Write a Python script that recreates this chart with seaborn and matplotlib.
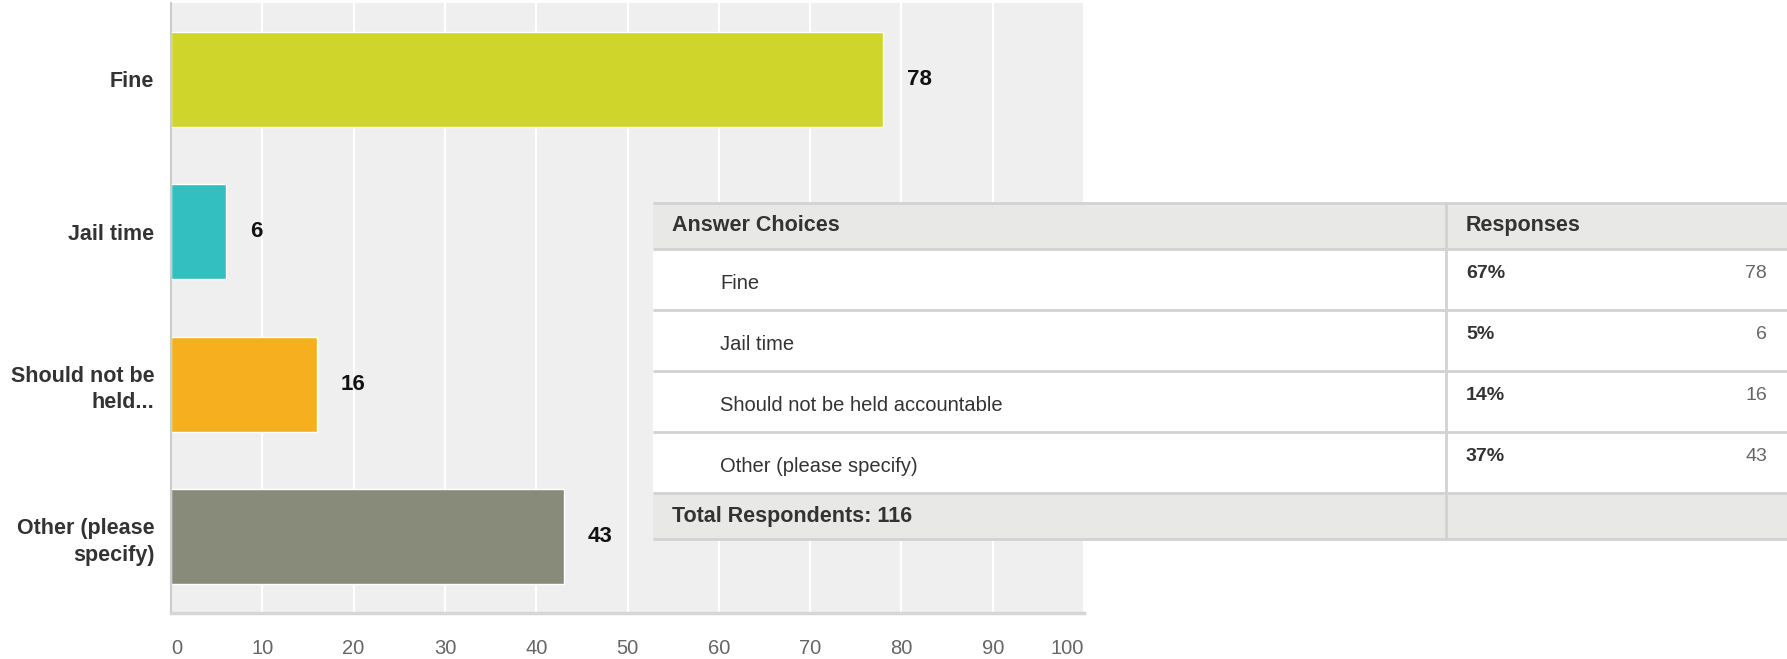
import matplotlib
matplotlib.use("Agg")
import matplotlib.pyplot as plt
import seaborn as sns
import pandas as pd
from matplotlib.patches import Rectangle

answers = ["Fine", "Jail time", "Should not be held accountable", "Other (please specify)"]
tick_labels = ["Fine", "Jail time", "Should not be\nheld...", "Other (please\nspecify)"]
counts = [78, 6, 16, 43]
percents = ["67%", "5%", "14%", "37%"]
total = 116
bar_colors = ["#cfd52a", "#33bec0", "#f6af1e", "#898b7a"]
x_ticks = [0, 10, 20, 30, 40, 50, 60, 70, 80, 90, 100]

df = pd.DataFrame({"answer": tick_labels, "count": counts})

sns.set_style("white")
plt.rcParams["font.family"] = ["Liberation Sans", "DejaVu Sans"]

W, H = 1787, 659
fig = plt.figure(figsize=(W / 100, H / 100), dpi=100)

# bar chart area
ax = fig.add_axes([171 / W, (H - 613) / H, (1084 - 171) / W, (613 - 3) / H])
ax.set_facecolor("#efefef")
sns.barplot(data=df, x="count", y="answer", hue="answer", palette=bar_colors,
            legend=False, width=0.62, orient="h", saturation=1, ax=ax)

ax.set_xlim(0, 100)
ax.set_xticks(x_ticks)
ax.set_xticklabels([str(t) for t in x_ticks], fontsize=14.5, color="#666666")
xl = ax.get_xticklabels()
xl[0].set_ha("left")
xl[-1].set_ha("right")
ax.tick_params(axis="x", length=0, pad=19)
ax.tick_params(axis="y", length=0, pad=12)
for lab in ax.get_yticklabels():
    lab.set_fontweight("bold")
    lab.set_fontsize(15.5)
    lab.set_color("#333333")
    lab.set_linespacing(1.35)
ax.set_xlabel("")
ax.set_ylabel("")
ax.grid(axis="x", color="white", linewidth=1.6)
ax.set_axisbelow(True)
for s in ["top", "right"]:
    ax.spines[s].set_visible(False)
ax.spines["left"].set_color("#cccccc")
ax.spines["left"].set_linewidth(1.5)
ax.spines["bottom"].set_color("#d6d6d6")
ax.spines["bottom"].set_linewidth(2.5)

for i, c in enumerate(counts):
    ax.annotate(str(c), (c, i), xytext=(24, 0), textcoords="offset pixels",
                va="center", ha="left", fontsize=16, fontweight="bold", color="#111111")

# results table overlay (pixel coordinates)
tab = fig.add_axes([0, 0, 1, 1], zorder=5)
tab.set_xlim(0, W)
tab.set_ylim(H, 0)
tab.axis("off")
tab.patch.set_alpha(0)

left, right, divider = 653, W + 2, 1446
top = 202.5
head_h = 46
row_h = 61.2
line_c = "#d2d2d2"
gray_bg = "#e8e8e6"

body_top = top + head_h
foot_top = body_top + row_h * len(answers)
bottom = foot_top + head_h

tab.add_patch(Rectangle((left, top), right - left, head_h, facecolor=gray_bg, edgecolor="none"))
tab.add_patch(Rectangle((left, body_top), right - left, foot_top - body_top, facecolor="white", edgecolor="none"))
tab.add_patch(Rectangle((left, foot_top), right - left, head_h, facecolor=gray_bg, edgecolor="none"))

ys = [top, body_top] + [body_top + row_h * (k + 1) for k in range(len(answers))] + [bottom]
for y in ys:
    tab.plot([left, right], [y, y], color=line_c, linewidth=2, solid_capstyle="butt")
tab.plot([divider, divider], [top, bottom], color=line_c, linewidth=2)

tab.text(672, top + head_h / 2, "Answer Choices", fontsize=15.5, fontweight="bold",
         color="#333333", va="center", ha="left")
tab.text(1466, top + head_h / 2, "Responses", fontsize=15.5, fontweight="bold",
         color="#333333", va="center", ha="left")

for k, (a, p, c) in enumerate(zip(answers, percents, counts)):
    cy = body_top + row_h * k + row_h / 2
    tab.text(720, cy + 4, a, fontsize=14.5, color="#333333", va="center", ha="left")
    tab.text(1466, cy - 6, p, fontsize=14, fontweight="bold", color="#333333", va="center", ha="left")
    tab.text(1767, cy - 6, str(c), fontsize=14, color="#666666", va="center", ha="right")

tab.text(672, foot_top + head_h / 2, f"Total Respondents: {total}", fontsize=15.5,
         fontweight="bold", color="#333333", va="center", ha="left")

fig.savefig("out.png", dpi=100, facecolor="white")
